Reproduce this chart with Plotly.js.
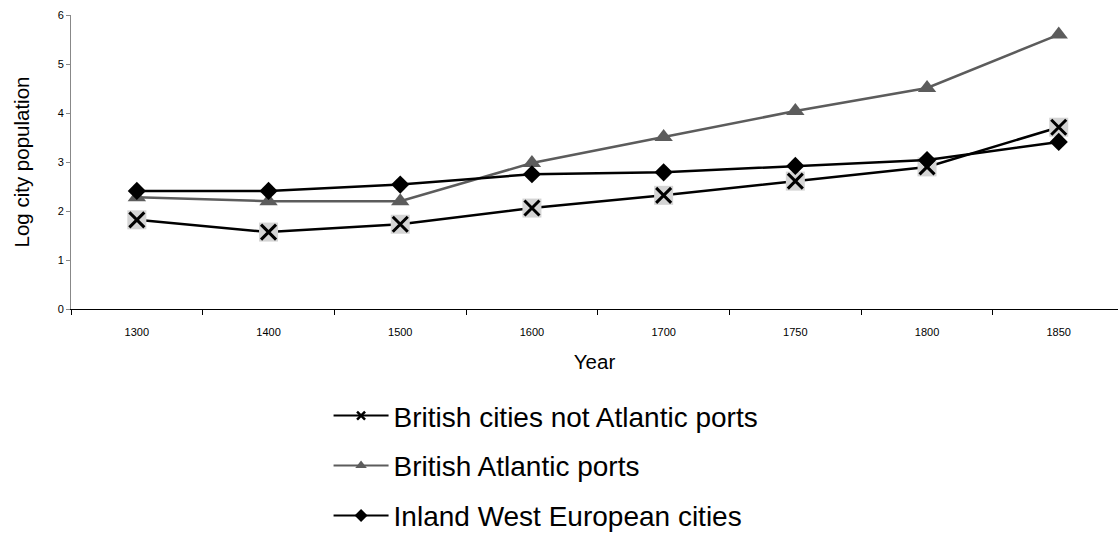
<!DOCTYPE html>
<html>
<head>
<meta charset="utf-8">
<script src="https://cdn.plot.ly/plotly-3.0.1.min.js"></script>
<style>html,body{margin:0;padding:0;background:#fff;}#chart{width:1118px;height:534px;}</style>
</head>
<body>
<div id="chart"></div>
<script>
var years = ['1300','1400','1500','1600','1700','1750','1800','1850'];
var britishNotAtlantic = [1.82, 1.57, 1.73, 2.06, 2.32, 2.61, 2.90, 3.71];
var britishAtlantic = [2.28, 2.20, 2.20, 2.98, 3.51, 4.04, 4.51, 5.60];
var inlandWestEurope = [2.41, 2.41, 2.54, 2.75, 2.79, 2.92, 3.04, 3.41];
var seriesNames = ['British cities not Atlantic ports', 'British Atlantic ports', 'Inland West European cities'];

var traces = [
  // plotted series (no legend)
  {x:years, y:britishNotAtlantic, type:'scatter', mode:'lines+markers', showlegend:false,
   line:{color:'#000', width:2.5},
   marker:{symbol:'square', size:19, color:'#d4d4d4', line:{width:0}}},
  {x:years, y:britishNotAtlantic, type:'scatter', mode:'markers', showlegend:false,
   marker:{symbol:'x-thin', size:15, line:{color:'#000', width:3}}},
  {x:years, y:britishAtlantic, type:'scatter', mode:'lines+markers', showlegend:false,
   line:{color:'#5c5c5c', width:2.5},
   marker:{symbol:'triangle-up', size:16, color:'#5c5c5c'}},
  {x:years, y:inlandWestEurope, type:'scatter', mode:'lines+markers', showlegend:false,
   line:{color:'#000', width:2.5},
   marker:{symbol:'diamond', size:14, color:'#000'}},
  // legend entries
  {x:[years[0]], y:[null], type:'scatter', mode:'lines+markers', name:seriesNames[0],
   legendgroup:'a', line:{color:'#000', width:2},
   marker:{symbol:'x-thin', size:8, line:{color:'#000', width:2.5}}, hoverinfo:'skip'},
  {x:[years[0]], y:[null], type:'scatter', mode:'lines+markers', name:seriesNames[1],
   legendgroup:'b', line:{color:'#5c5c5c', width:2},
   marker:{symbol:'triangle-up', size:10, color:'#5c5c5c'}, hoverinfo:'skip'},
  {x:[years[0]], y:[null], type:'scatter', mode:'lines+markers', name:seriesNames[2],
   legendgroup:'c', line:{color:'#000', width:2},
   marker:{symbol:'diamond', size:10, color:'#000'}, hoverinfo:'skip'}
];

var layout = {
  width:1118, height:534,
  margin:{l:71, r:0, t:15, b:225},
  paper_bgcolor:'#fff', plot_bgcolor:'#fff',
  font:{family:'Liberation Sans, Arial, sans-serif', color:'#000'},
  showlegend:true,
  legend:{x:0.246, xanchor:'left', yref:'container', y:0.268, yanchor:'top', orientation:'v',
          traceorder:'grouped', tracegroupgap:10.5, itemwidth:55,
          font:{size:28, color:'#000'}, bgcolor:'rgba(0,0,0,0)'},
  xaxis:{type:'category', range:[-0.5, 7.45], showgrid:false, zeroline:false,
         showline:true, linecolor:'#000', linewidth:1,
         ticks:'outside', tickson:'boundaries', ticklen:5, tickcolor:'#000',
         tickfont:{size:11, color:'#000'}, ticklabelstandoff:13,
         title:{text:'Year', font:{size:20.5, color:'#000'}, standoff:17}},
  yaxis:{range:[0,6], dtick:1, showgrid:false, zeroline:false,
         showline:true, linecolor:'#888', linewidth:1,
         ticks:'outside', ticklen:4, tickcolor:'#888',
         tickfont:{size:11, color:'#000'},
         title:{text:'Log city population', font:{size:20.5, color:'#000'}, standoff:22}}
};

Plotly.newPlot('chart', traces, layout, {displayModeBar:false, staticPlot:true});
</script>
</body>
</html>
